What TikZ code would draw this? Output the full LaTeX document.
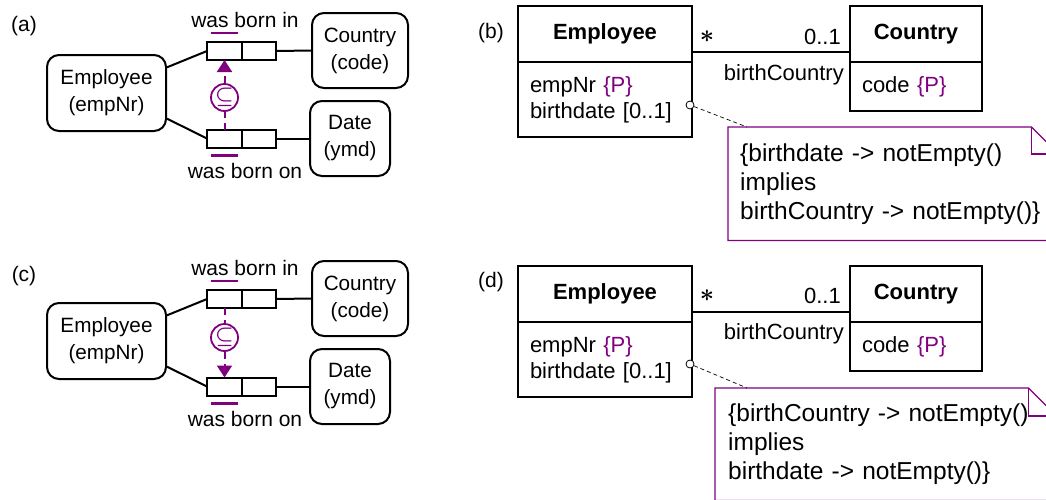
\documentclass[tikz,border=0pt]{standalone}
\usepackage{fontspec}
\setmainfont{Liberation Sans}
\usetikzlibrary{arrows.meta,positioning}
\definecolor{ormpurple}{RGB}{128,0,128}

\begin{document}
\begin{tikzpicture}[x=1pt,y=-1pt,
  entity/.style={draw, line width=2pt, rounded corners=12pt, align=center, inner sep=0pt,
    font=\fontsize{20.7}{27}\selectfont},
  role/.style={draw, line width=2pt, minimum width=35pt, minimum height=18pt, inner sep=0pt, outer sep=0pt},
  link/.style={line width=2pt},
  ubar/.style={ormpurple, line width=2.8pt},
  subsetnode/.style={circle, draw=ormpurple, line width=1.8pt, minimum size=27pt, inner sep=0pt,
    text=ormpurple, font=\fontsize{21}{21}\selectfont\boldmath},
  subsetline/.style={ormpurple, line width=2pt, dash pattern=on 7pt off 5pt},
  subsettip/.style={-{Triangle[length=12pt,width=15pt]}},
  readlabel/.style={font=\fontsize{21}{25}\selectfont, inner sep=0pt},
  panel/.style={font=\fontsize{21}{25}\selectfont, inner sep=0pt},
  classhead/.style={draw, line width=2pt, minimum height=56pt, inner sep=0pt, outer sep=0pt,
    font=\fontsize{22}{26}\selectfont\bfseries},
  classbody/.style={draw, line width=2pt, align=left, inner xsep=12pt, inner ysep=0pt, outer sep=0pt,
    font=\fontsize{22}{26}\selectfont},
  umltext/.style={font=\fontsize{22}{26}\selectfont, inner sep=0pt},
  manystar/.style={font=\fontsize{30}{30}\selectfont\boldmath, inner sep=0pt},
  notedot/.style={circle, draw, fill=white, line width=0.8pt, minimum size=8pt, inner sep=0pt},
  notelink/.style={line width=0.7pt, dash pattern=on 4pt off 3pt},
  notetext/.style={anchor=north west, align=left, inner ysep=0pt,
    font=\fontsize{24.5}{29}\selectfont},
  notebox/.style={draw=ormpurple, line width=1.2pt}]

  \useasboundingbox (0,0) rectangle (1046,499);
  \clip (0,0) rectangle (1046,499);

  % (a) ORM schema, subset from birthdate role to birth country role
  \node[panel] (labA) at (24,26) {(a)};
  \node[entity, minimum width=119pt, minimum height=76pt] (empA) at (106.5,93) {Employee\\(empNr)};
  \node[entity, minimum width=96pt, minimum height=75pt] (ctyA) at (360,50.5) {Country\\(code)};
  \node[entity, minimum width=80pt, minimum height=75pt] (dateA) at (350,138.5) {Date\\(ymd)};
  \node[role] (topAL) at (224.5,51) {};
  \node[role, minimum width=34pt, right=0pt of topAL] (topAR) {};
  \node[role] (botAL) at (224.5,138.5) {};
  \node[role, minimum width=34pt, right=0pt of botAL] (botAR) {};
  \node[readlabel] (readTopA) at (245,20) {was born in};
  \node[readlabel] (readBotA) at (245,171) {was born on};
  \draw[link] (empA.23) -- (topAL.west);
  \draw[link] (empA.-23) -- (botAL.west);
  \draw[link] (topAR.east) -- (ctyA.west);
  \draw[link] (botAR.east) -- (dateA.west);
  \draw[ubar] ([xshift=4pt,yshift=9pt]topAL.north west) -- ([xshift=-4pt,yshift=9pt]topAL.north east);
  \draw[ubar] ([xshift=4pt,yshift=-8pt]botAL.south west) -- ([xshift=-4pt,yshift=-8pt]botAL.south east);
  \node[subsetnode] (subA) at (224.5,97.5) {$\subseteq$};
  \draw[subsetline] (botAL.north) -- (subA);
  \draw[subsetline, subsettip] (subA) -- (topAL.south);

  % (c) same schema, subset the other way round
  \node[panel] (labC) at (24,276) {(c)};
  \node[entity, minimum width=119pt, minimum height=76pt] (empC) at (106.5,341) {Employee\\(empNr)};
  \node[entity, minimum width=96pt, minimum height=75pt] (ctyC) at (360,298.5) {Country\\(code)};
  \node[entity, minimum width=80pt, minimum height=75pt] (dateC) at (350,386.5) {Date\\(ymd)};
  \node[role] (topCL) at (224.5,299) {};
  \node[role, minimum width=34pt, right=0pt of topCL] (topCR) {};
  \node[role] (botCL) at (224.5,386.5) {};
  \node[role, minimum width=34pt, right=0pt of botCL] (botCR) {};
  \node[readlabel] (readTopC) at (245,268) {was born in};
  \node[readlabel] (readBotC) at (245,419) {was born on};
  \draw[link] (empC.23) -- (topCL.west);
  \draw[link] (empC.-23) -- (botCL.west);
  \draw[link] (topCR.east) -- (ctyC.west);
  \draw[link] (botCR.east) -- (dateC.west);
  \draw[ubar] ([xshift=4pt,yshift=9pt]topCL.north west) -- ([xshift=-4pt,yshift=9pt]topCL.north east);
  \draw[ubar] ([xshift=4pt,yshift=-8pt]botCL.south west) -- ([xshift=-4pt,yshift=-8pt]botCL.south east);
  \node[subsetnode] (subC) at (224.5,337.5) {$\subseteq$};
  \draw[subsetline] (topCL.south) -- (subC);
  \draw[subsetline, subsettip] (subC) -- (botCL.north);

  % (b) UML classes with OCL note
  \node[panel] (labB) at (491,33) {(b)};
  \node[classhead, minimum width=174pt] (empHB) at (605,34) {Employee};
  \node[classbody, text width=150pt, minimum height=75pt, below=0pt of empHB] (empBB)
    {empNr \textcolor{ormpurple}{\{P\}}\\birthdate [0..1]};
  \node[classhead, minimum width=132pt] (ctyHB) at (916,34) {Country};
  \node[classbody, text width=108pt, minimum height=49pt, below=0pt of ctyHB] (ctyBB)
    {code \textcolor{ormpurple}{\{P\}}};
  \draw[link] ([yshift=-18pt]empHB.east) -- ([yshift=-18pt]ctyHB.west);
  \node[manystar] (manyB) at (707,37) {$\ast$};
  \node[umltext, anchor=base east] (oneB) at (841,44) {0..1};
  \node[umltext, anchor=base east] (roleB) at (844,80) {birthCountry};
  \node[notetext, inner xsep=12pt, text width=306pt, minimum height=113pt] (noteB) at (728,127)
    {\{birthdate -> notEmpty()\\implies\\birthCountry -> notEmpty()\}};
  \draw[notebox] (noteB.north west) -- ([xshift=-27pt]noteB.north east) -- ([yshift=-27pt]noteB.north east)
    -- (noteB.south east) -- (noteB.south west) -- cycle;
  \draw[notebox] ([xshift=-27pt]noteB.north east) |- ([yshift=-27pt]noteB.north east);
  \node[notedot] (dotB) at (690,105) {};
  \draw[notelink] (dotB) -- ([xshift=19pt]noteB.north west);

  % (d) UML classes, constraint reversed
  \node[panel] (labD) at (491,282) {(d)};
  \node[classhead, minimum width=174pt] (empHD) at (605,294) {Employee};
  \node[classbody, text width=150pt, minimum height=75pt, below=0pt of empHD] (empBD)
    {empNr \textcolor{ormpurple}{\{P\}}\\birthdate [0..1]};
  \node[classhead, minimum width=132pt] (ctyHD) at (916,294) {Country};
  \node[classbody, text width=108pt, minimum height=49pt, below=0pt of ctyHD] (ctyBD)
    {code \textcolor{ormpurple}{\{P\}}};
  \draw[link] ([yshift=-18pt]empHD.east) -- ([yshift=-18pt]ctyHD.west);
  \node[manystar] (manyD) at (707,296) {$\ast$};
  \node[umltext, anchor=base east] (oneD) at (841,303) {0..1};
  \node[umltext, anchor=base east] (roleD) at (844,339) {birthCountry};
  \node[notetext, inner xsep=13pt, text width=315pt, minimum height=112pt] (noteD) at (715,388)
    {\{birthCountry -> notEmpty()\\implies\\birthdate -> notEmpty()\}};
  \draw[notebox] (noteD.north west) -- ([xshift=-28pt]noteD.north east) -- ([yshift=-28pt]noteD.north east)
    -- (noteD.south east) -- (noteD.south west) -- cycle;
  \draw[notebox] ([xshift=-28pt]noteD.north east) |- ([yshift=-28pt]noteD.north east);
  \node[notedot] (dotD) at (690,364) {};
  \draw[notelink] (dotD) -- ([xshift=32pt]noteD.north west);
\end{tikzpicture}
\end{document}
